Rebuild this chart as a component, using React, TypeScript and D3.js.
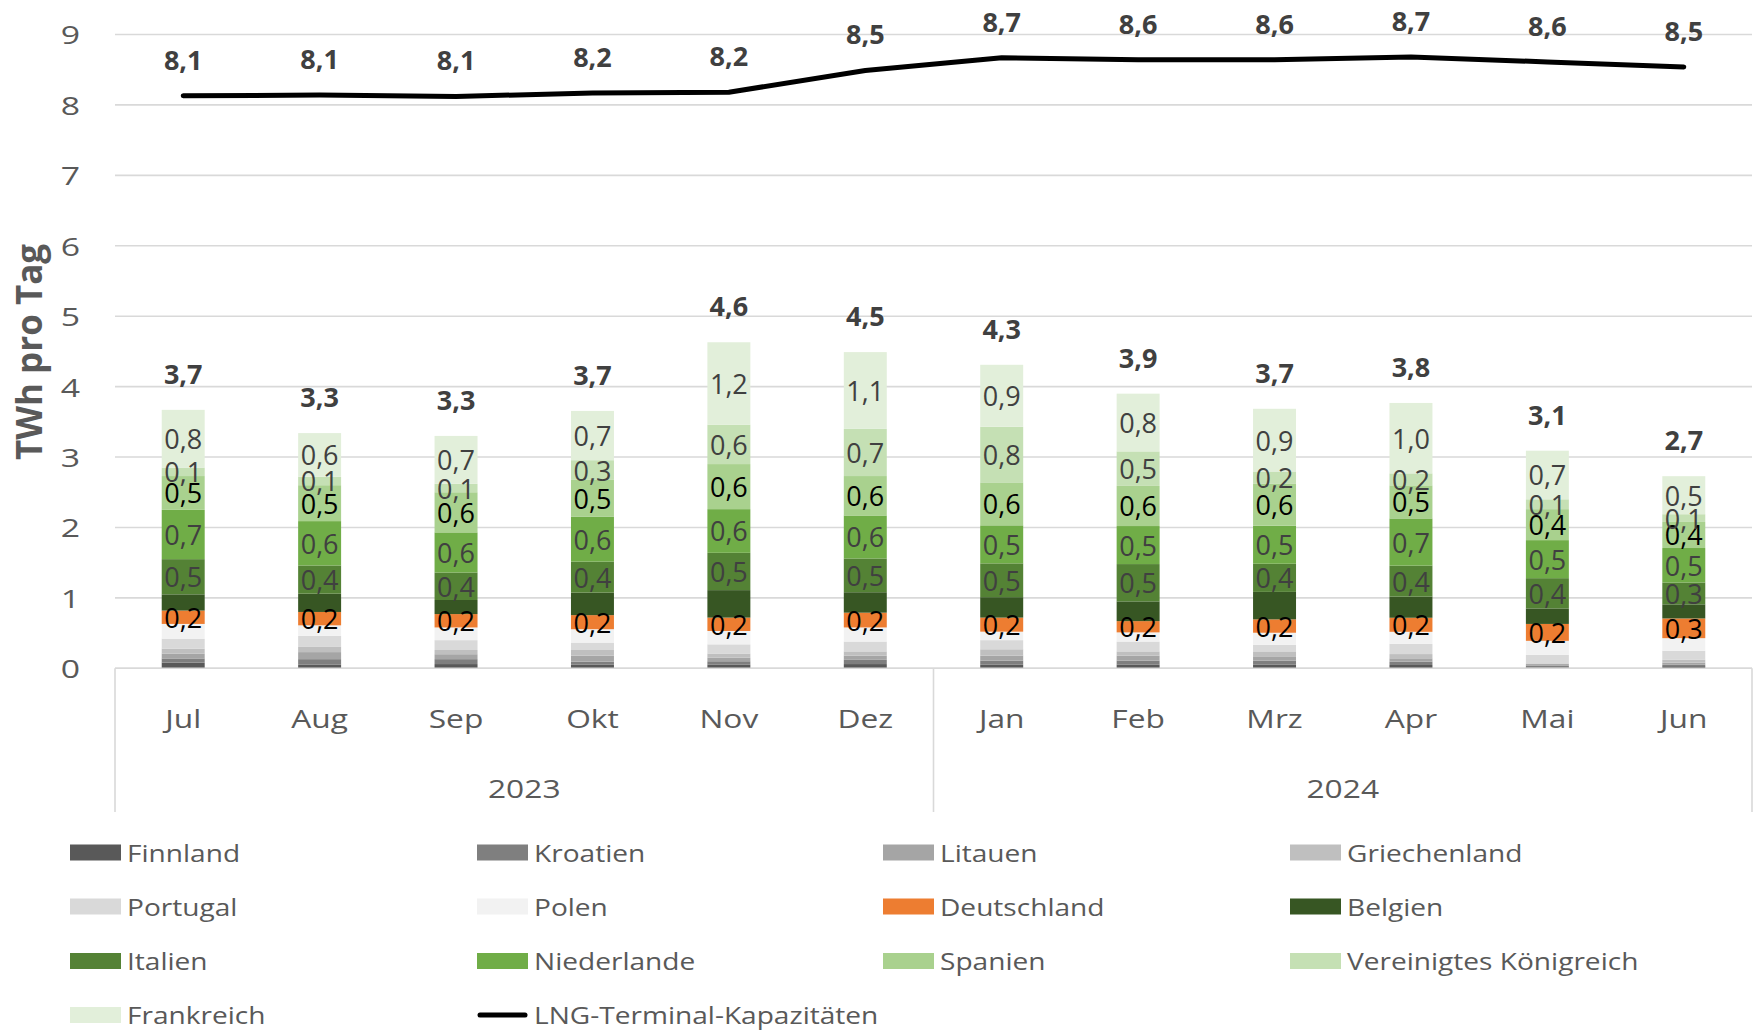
import React from "react";
import * as d3 from "d3";

const months = ["Jul", "Aug", "Sep", "Okt", "Nov", "Dez", "Jan", "Feb", "Mrz", "Apr", "Mai", "Jun"];
const years = [
  { label: "2023", from: 0, to: 5 },
  { label: "2024", from: 6, to: 11 },
];

const seriesNames = [
  "Finnland", "Kroatien", "Litauen", "Griechenland", "Portugal", "Polen",
  "Deutschland", "Belgien", "Italien", "Niederlande", "Spanien",
  "Vereinigtes Königreich", "Frankreich",
];
const seriesColors = [
  "#595959", "#7f7f7f", "#a5a5a5", "#bfbfbf", "#d9d9d9", "#f2f2f2",
  "#ed7d31", "#375623", "#548235", "#70ad47", "#a9d18e", "#c5e0b4", "#e2efda",
];
// which series carry a data label, and in which colour
const labelColors: (string | null)[] = [
  null, null, null, null, null, null,
  "#000000", null, "#404040", "#404040", "#000000", "#404040", "#404040",
];

const finnland = [0.08, 0.05, 0.06, 0.05, 0.05, 0.06, 0.05, 0.05, 0.05, 0.047, 0.01, 0.03];
const kroatien = [0.06, 0.08, 0.07, 0.045, 0.05, 0.06, 0.06, 0.06, 0.06, 0.048, 0.03, 0.02];
const litauen = [0.07, 0.10, 0.07, 0.085, 0.05, 0.06, 0.07, 0.07, 0.06, 0.047, 0.02, 0.03];
const griechenland = [0.07, 0.08, 0.06, 0.08, 0.06, 0.06, 0.09, 0.06, 0.07, 0.06, 0.01, 0.04];
const portugal = [0.14, 0.15, 0.14, 0.105, 0.13, 0.14, 0.13, 0.14, 0.095, 0.146, 0.12, 0.128];
const polen = [0.21, 0.15, 0.18, 0.19, 0.19, 0.20, 0.12, 0.13, 0.17, 0.17, 0.20, 0.18];
const deutschland = [0.19, 0.19, 0.19, 0.20, 0.19, 0.21, 0.20, 0.16, 0.19, 0.20, 0.24, 0.28];
const belgien = [0.23, 0.26, 0.20, 0.32, 0.39, 0.29, 0.29, 0.28, 0.39, 0.30, 0.22, 0.20];
const italien = [0.50, 0.40, 0.39, 0.44, 0.53, 0.48, 0.48, 0.53, 0.40, 0.44, 0.43, 0.31];
const niederlande = [0.70, 0.63, 0.57, 0.64, 0.62, 0.61, 0.54, 0.54, 0.54, 0.67, 0.54, 0.49];
const spanien = [0.48, 0.51, 0.57, 0.52, 0.64, 0.56, 0.61, 0.57, 0.60, 0.47, 0.44, 0.37];
const vereinigtesKoenigreich = [0.12, 0.12, 0.12, 0.28, 0.56, 0.67, 0.79, 0.49, 0.17, 0.17, 0.14, 0.11];
const frankreich = [0.82, 0.62, 0.68, 0.70, 1.17, 1.09, 0.88, 0.82, 0.89, 1.00, 0.69, 0.54];

const lngCapacity = [8.13, 8.14, 8.12, 8.17, 8.18, 8.49, 8.67, 8.64, 8.64, 8.68, 8.61, 8.54];

const yTicks = [0, 1, 2, 3, 4, 5, 6, 7, 8, 9];

const seriesValues = [
  finnland, kroatien, litauen, griechenland, portugal, polen, deutschland,
  belgien, italien, niederlande, spanien, vereinigtesKoenigreich, frankreich,
];

const fmt = (v: number) => v.toFixed(1).replace(".", ",");

const W = 1759;
const H = 1031;
const FONT = "'Open Sans', 'Noto Sans', sans-serif";

function WideText(props: {
  x: number; y: number; sx: number; anchor: "start" | "middle" | "end";
  size: number; fill: string; children: React.ReactNode; weight?: string;
}) {
  return (
    <g transform={`translate(${props.x},${props.y}) scale(${props.sx},1)`}>
      <text x={0} y={0} textAnchor={props.anchor} dominantBaseline="central" fontSize={props.size} fill={props.fill} fontWeight={props.weight}>
        {props.children}
      </text>
    </g>
  );
}

export default function App() {
  const left = 115;
  const right = 1752;
  const y0 = 668.3;
  const y9 = 34.5;

  const x = d3.scaleBand<string>().domain(months).range([left, right]).paddingInner(0.685).paddingOuter(0.3425);
  const y = d3.scaleLinear().domain([0, 9]).range([y0, y9]);
  const bw = x.bandwidth();
  const cx = (m: string) => (x(m) as number) + bw / 2;

  const rows = months.map((m, i) => {
    const r: any = { month: m };
    seriesNames.forEach((s, k) => (r[s] = seriesValues[k][i]));
    return r;
  });
  const stacked = d3.stack<any>().keys(seriesNames)(rows);
  const totals = months.map((_, i) => d3.sum(seriesValues, (s) => s[i]));

  const line = d3
    .line<number>()
    .x((_, i) => cx(months[i]))
    .y((d) => y(d))
    .curve(d3.curveLinear);

  const legendItems = [...seriesNames.map((n, k) => ({ name: n, color: seriesColors[k], line: false })), { name: "LNG-Terminal-Kapazitäten", color: "#000", line: true }];
  const colX = [70, 477, 883, 1290];
  const rowY = [852.5, 906.5, 961, 1015];

  const step = x.step();

  return (
    <div style={{ position: "absolute", left: 0, top: 0 }}>
      <svg width={W} height={H} style={{ display: "block", background: "#fff" }} fontFamily={FONT}>
        {/* gridlines */}
        {yTicks.map((t) => (
          <line key={"g" + t} x1={left} x2={right} y1={y(t)} y2={y(t)} stroke="#d9d9d9" strokeWidth={1.6} />
        ))}
        {/* y tick labels */}
        {yTicks.map((t) => (
          <WideText key={"yt" + t} x={80} y={y(t)} sx={1.3} anchor="end" size={26} fill="#595959">
            {t}
          </WideText>
        ))}
        {/* y title */}
        <text
          transform={`translate(28,352) rotate(-90)`}
          textAnchor="middle"
          dominantBaseline="central"
          fontSize={35}
          fontWeight="bold"
          fill="#595959"
        >
          TWh pro Tag
        </text>

        {/* bars */}
        {stacked.map((layer, k) =>
          layer.map((d, i) => (
            <rect
              key={`b${k}-${i}`}
              x={x(months[i])}
              y={y(d[1])}
              width={bw}
              height={Math.max(0, y(d[0]) - y(d[1]))}
              fill={seriesColors[k]}
            />
          ))
        )}
        {/* segment labels */}
        {stacked.map((layer, k) =>
          labelColors[k]
            ? layer.map((d, i) => (
                <text
                  key={`l${k}-${i}`}
                  x={cx(months[i])}
                  y={y((d[0] + d[1]) / 2)}
                  textAnchor="middle"
                  dominantBaseline="central"
                  fontSize={27}
                  fill={labelColors[k] as string}
                >
                  {fmt(seriesValues[k][i])}
                </text>
              ))
            : null
        )}
        {/* totals */}
        {totals.map((t, i) => (
          <text key={"t" + i} x={cx(months[i])} y={y(t) - 26} textAnchor="middle" fontSize={27} fontWeight="bold" fill="#404040">
            {fmt(t)}
          </text>
        ))}

        {/* LNG line */}
        <path d={line(lngCapacity) as string} fill="none" stroke="#000" strokeWidth={5} strokeLinecap="round" strokeLinejoin="round" />
        {lngCapacity.map((v, i) => (
          <text key={"lv" + i} x={cx(months[i])} y={y(v) - 26} textAnchor="middle" fontSize={27} fontWeight="bold" fill="#404040">
            {fmt(v)}
          </text>
        ))}

        {/* category axis */}
        <line x1={left} x2={right} y1={y0} y2={y0} stroke="#d9d9d9" strokeWidth={1.6} />
        {[0, 6, 12].map((b) => {
          const xx = left + b * step;
          return <line key={"v" + b} x1={xx} x2={xx} y1={y0} y2={812} stroke="#d9d9d9" strokeWidth={1.6} />;
        })}
        {months.map((m) => (
          <WideText key={"m" + m} x={cx(m)} y={718} sx={1.22} anchor="middle" size={26} fill="#595959">
            {m}
          </WideText>
        ))}
        {years.map((yr) => (
          <WideText
            key={yr.label}
            x={(cx(months[yr.from]) + cx(months[yr.to])) / 2}
            y={788}
            sx={1.22}
            anchor="middle"
            size={26}
            fill="#595959"
          >
            {yr.label}
          </WideText>
        ))}

        {/* legend */}
        {legendItems.map((it, i) => {
          const cxL = colX[i % 4];
          const cyL = rowY[Math.floor(i / 4)];
          return (
            <g key={"lg" + i}>
              {it.line ? (
                <line x1={cxL + 3} x2={cxL + 48} y1={cyL} y2={cyL} stroke="#000" strokeWidth={5} strokeLinecap="round" />
              ) : (
                <rect x={cxL} y={cyL - 8} width={51} height={16} fill={it.color} />
              )}
              <WideText x={cxL + 57} y={cyL} sx={1.17} anchor="start" size={24} fill="#595959">
                {it.name}
              </WideText>
            </g>
          );
        })}
      </svg>
    </div>
  );
}
